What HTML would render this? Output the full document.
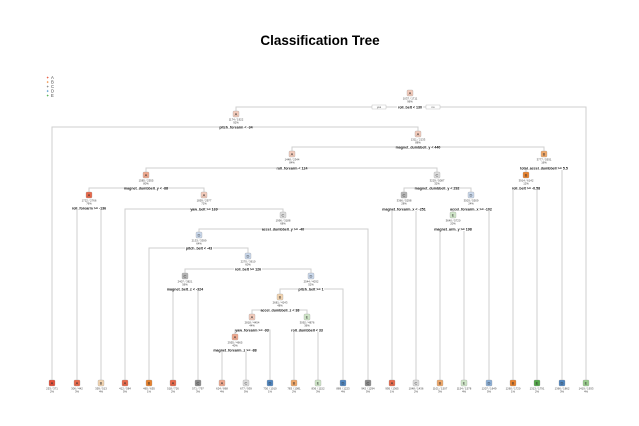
<!DOCTYPE html>
<html><head><meta charset="utf-8"><style>
html,body{margin:0;padding:0;background:#fff;}
svg{display:block;font-family:"Liberation Sans",sans-serif;}
</style></head><body>
<svg id="s" width="639" height="426" viewBox="0 0 639 426" xmlns="http://www.w3.org/2000/svg">
<rect width="639" height="426" fill="#fff"/>
<text x="320" y="45" text-anchor="middle" font-size="13.5" font-weight="bold" fill="#000">Classification Tree</text>
<g font-size="4.2" fill="#444">
<text x="46" y="79" fill="#e8553a">✦</text><text x="51" y="79">A</text>
<text x="46" y="83.5" fill="#ee8a3a">✦</text><text x="51" y="83.5">B</text>
<text x="46" y="88" fill="#888">✦</text><text x="51" y="88">C</text>
<text x="46" y="92.5" fill="#4a90c8">✦</text><text x="51" y="92.5">D</text>
<text x="46" y="97" fill="#4db04d">✦</text><text x="51" y="97">E</text>
</g>
<g id="lines" stroke="#cfcfcf" stroke-width="1" fill="none"></g>
<g id="nodes"></g>
</svg>
<script>
var C={A1:"#f3cbbb",A2:"#f0a88e",A3:"#e86a4c",A4:"#e4503a",B1:"#f3d4b0",B2:"#f0a86a",B3:"#e8822e",C1:"#dcdcdc",C2:"#b4b4b4",C3:"#8a8a8a",D1:"#c9d8ec",D2:"#8cb0d8",D3:"#4f86c0",E1:"#cfe6c8",E2:"#9acd8e",E3:"#55a84a"};
// id: [x, boxY, letter, color, split, splitY, children]
var N={
r:[410,93,"A","A1","roll_belt < 130",107,["n2","L586"]],
n2:[236,114,"A","A1","pitch_forearm < -34",127,["L52","n4"]],
n4:[418,134,"A","A1","magnet_dumbbell_y < 440",147,["n8","n9"]],
n8:[292,154,"A","A1","roll_forearm < 124",168,["n16","n17"]],
n16:[146,175,"A","A2","magnet_dumbbell_y < -88",188,["n32","n33"]],
n32:[89,195,"A","A3","roll_forearm >= -136",208,["L77","L101"]],
n33:[204,195,"A","A1","yaw_belt >= 169",209,["L125","n67"]],
n67:[283,215,"C","C1","accel_dumbbell_y >= -40",229,["n134","L368"]],
n134:[199,235,"D","D1","pitch_belt < -43",248,["L149","n269"]],
n269:[248,256,"D","D1","roll_belt >= 126",269,["n538","n539"]],
n538:[185,276,"C","C2","magnet_belt_z < -324",289,["L173","L198"]],
n539:[311,276,"D","D1","pitch_belt >= 1",289,["n1078","L343"]],
n1078:[280,297,"B","B1","accel_dumbbell_z < 38",310,["nA","nE"]],
nA:[252,317,"A","A1","yaw_forearm >= -93",330,["nA2","L270"]],
nA2:[235,337,"A","A2","magnet_forearm_z >= -88",350,["L222","L246"]],
nE:[307,317,"E","E1","roll_dumbbell < 33",330,["L294","L318"]],
n17:[437,175,"C","C1","magnet_dumbbell_y < 292",188,["n34","n35"]],
n34:[404,195,"C","C2","magnet_forearm_x < -251",209,["L392","L416"]],
n35:[471,195,"D","D1","accel_forearm_x >= -102",209,["n70","L489"]],
n70:[453,215,"E","E1","magnet_arm_y >= 198",229,["L440","L464"]],
n9:[544,154,"B","B2","total_accel_dumbbell >= 5.5",168,["n18","L562"]],
n18:[526,175,"B","B3","roll_belt >= -0.58",188,["L513","L537"]]
};
var leaves={52:["A","A4"],77:["A","A3"],101:["B","B1"],125:["A","A3"],149:["B","B3"],173:["A","A3"],198:["C","C3"],222:["A","A2"],246:["C","C1"],270:["D","D3"],294:["B","B2"],318:["E","E1"],343:["D","D3"],368:["C","C3"],392:["A","A3"],416:["C","C1"],440:["B","B2"],464:["E","E1"],489:["D","D2"],513:["B","B3"],537:["E","E3"],562:["D","D3"],586:["E","E2"]};
var LY=383,lines="",nodes="";
function box(x,y,l,c,a,b){
 nodes+='<rect x="'+(x-3)+'" y="'+(y-3)+'" width="6" height="6" rx="1" fill="'+C[c]+'" stroke="#999" stroke-width="0.3"/>'+
 '<text x="'+x+'" y="'+(y+1.4)+'" font-size="4" text-anchor="middle" fill="#333">'+l+'</text>'+
 '<text x="'+x+'" y="'+(y+6.3)+'" font-size="2.8" text-anchor="middle" fill="#444">'+a+'</text>'+
 '<text x="'+x+'" y="'+(y+9.6)+'" font-size="2.8" text-anchor="middle" fill="#444">'+b+'</text>';
}
var k=0;
for(var id in N){var n=N[id];k++;
 var xs=n[6].map(function(c){return c[0]=="L"?+c.slice(1):N[c][0];});
 var ys=n[6].map(function(c){return c[0]=="L"?LY-3:N[c][1]-3;});
 lines+='<path d="M'+xs[0]+' '+ys[0]+'V'+n[5]+'H'+xs[1]+'V'+ys[1]+'"/>';
 box(n[0],n[1],n[2],n[3],(900+k*137)+" / "+(1500+k*211),(100-k*4>1?100-k*4:2)+"%");
 var w=n[4].length*1.75;
 nodes+='<rect x="'+(n[0]-w/2)+'" y="'+(n[5]-2.2)+'" width="'+w+'" height="4.2" fill="#fff"/>'+
 '<text x="'+n[0]+'" y="'+(n[5]+1.3)+'" font-size="3.6" font-weight="bold" text-anchor="middle" fill="#111">'+n[4]+'</text>';
 if(id=="r"){nodes+='<rect x="372" y="105" width="14" height="4" fill="#fff" stroke="#999" stroke-width="0.3"/><text x="379" y="108.2" font-size="2.8" text-anchor="middle" fill="#444">yes</text><rect x="426" y="105" width="14" height="4" fill="#fff" stroke="#999" stroke-width="0.3"/><text x="433" y="108.2" font-size="2.8" text-anchor="middle" fill="#444">no</text>';}
}
var j=0;
for(var x in leaves){j++;var v=leaves[x];box(+x,LY,v[0],v[1],(200+j*53)+" / "+(300+j*71),(j%5+1)+"%");}
document.getElementById("lines").innerHTML=lines;
document.getElementById("nodes").innerHTML=nodes;
</script>
</body></html>
